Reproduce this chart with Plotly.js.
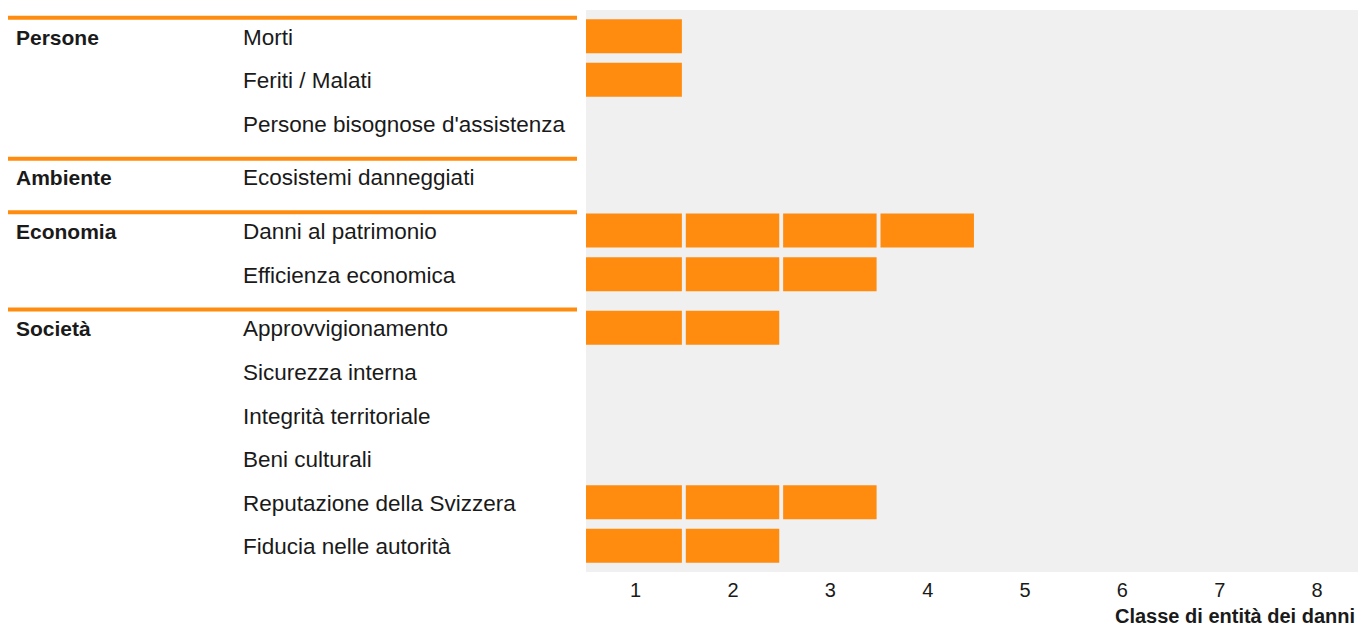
<!DOCTYPE html>
<html>
<head>
<meta charset="utf-8">
<script src="https://cdn.plot.ly/plotly-3.0.1.min.js"></script>
<style>
  html, body { margin: 0; padding: 0; background: #fff; }
  #chart { width: 1358px; height: 628px; }
</style>
</head>
<body>
<div id="chart"></div>
<script>
// ---- data ----
var groups = ["Persone", "Ambiente", "Economia", "Società"];
var indicators = [
  "Morti",
  "Feriti / Malati",
  "Persone bisognose d'assistenza",
  "Ecosistemi danneggiati",
  "Danni al patrimonio",
  "Efficienza economica",
  "Approvvigionamento",
  "Sicurezza interna",
  "Integrità territoriale",
  "Beni culturali",
  "Reputazione della Svizzera",
  "Fiducia nelle autorità"
];
var indicatorGroup = [0, 0, 0, 1, 2, 2, 3, 3, 3, 3, 3, 3];
var damageClass = [1, 1, 0, 0, 4, 3, 2, 0, 0, 0, 3, 2];
var classTicks = [1, 2, 3, 4, 5, 6, 7, 8];
var xTitle = "Classe di entità dei danni";

// ---- layout helpers ----
var W = 1358, H = 628;
var M = {l: 586, r: 0, t: 10, b: 56};
var plotW = W - M.l - M.r, plotH = H - M.t - M.b;
function px2x(px) { return (px - M.l) / plotW; }
function px2y(py) { return (H - M.b - py) / plotH; }

var ORANGE = "#ff8c0e";
var FONT = "Liberation Sans, Arial, sans-serif";
var groupGap = 0.23;
var rowY = indicators.map(function (_, i) { return i + indicatorGroup[i] * groupGap; });

// one trace per damage class: a segment for each indicator reaching that class
var traces = classTicks.map(function (k) {
  var xs = [], ys = [], bases = [];
  indicators.forEach(function (_, i) {
    if (damageClass[i] >= k) {
      var start = k - 0.5 + (k > 1 ? 0.015 : -0.01);
      var end = k + 0.5 - 0.025;
      xs.push(end - start);
      bases.push(start);
      ys.push(rowY[i]);
    }
  });
  return {
    type: "bar", orientation: "h",
    x: xs, y: ys, base: bases,
    width: 0.78,
    marker: {color: ORANGE, line: {width: 0}},
    hoverinfo: "skip", showlegend: false
  };
});

var annotations = [];
var shapes = [];
indicators.forEach(function (name, i) {
  annotations.push({
    text: name, xref: "paper", yref: "y", x: px2x(241), y: rowY[i],
    xanchor: "left", yanchor: "middle", showarrow: false, yshift: -1,
    font: {family: FONT, size: 22.5, color: "#1a1a1a"}
  });
});
groups.forEach(function (g, gi) {
  var first = indicatorGroup.indexOf(gi);
  annotations.push({
    text: "<b>" + g + "</b>", xref: "paper", yref: "y", x: px2x(14), y: rowY[first],
    xanchor: "left", yanchor: "middle", showarrow: false, yshift: -1,
    font: {family: FONT, size: 21, color: "#1a1a1a"}
  });
  shapes.push({
    type: "line", xref: "paper", yref: "y",
    x0: px2x(8), x1: px2x(577), y0: rowY[first] - 0.42, y1: rowY[first] - 0.42,
    line: {color: ORANGE, width: 4}
  });
});
annotations.push({
  text: "<b>" + xTitle + "</b>", xref: "paper", yref: "paper",
  x: 1, y: px2y(616), xanchor: "right", yanchor: "middle", showarrow: false,
  xshift: -2, borderpad: 0,
  font: {family: FONT, size: 20, color: "#1a1a1a"}
});

var last = rowY[rowY.length - 1];
var layout = {
  width: W, height: H,
  margin: M,
  paper_bgcolor: "#ffffff",
  plot_bgcolor: "#f0f0f0",
  barmode: "overlay",
  showlegend: false,
  xaxis: {
    range: [0.49, 8.42], tickvals: classTicks, ticks: "",
    showgrid: false, zeroline: false, showline: false,
    ticklabelstandoff: 4,
    tickfont: {family: FONT, size: 20, color: "#1a1a1a"},
    fixedrange: true
  },
  yaxis: {
    range: [last + 0.6, -0.6], showticklabels: false, ticks: "",
    showgrid: false, zeroline: false, showline: false, fixedrange: true
  },
  annotations: annotations,
  shapes: shapes
};

Plotly.newPlot("chart", traces, layout, {displayModeBar: false, staticPlot: true});
</script>
</body>
</html>
